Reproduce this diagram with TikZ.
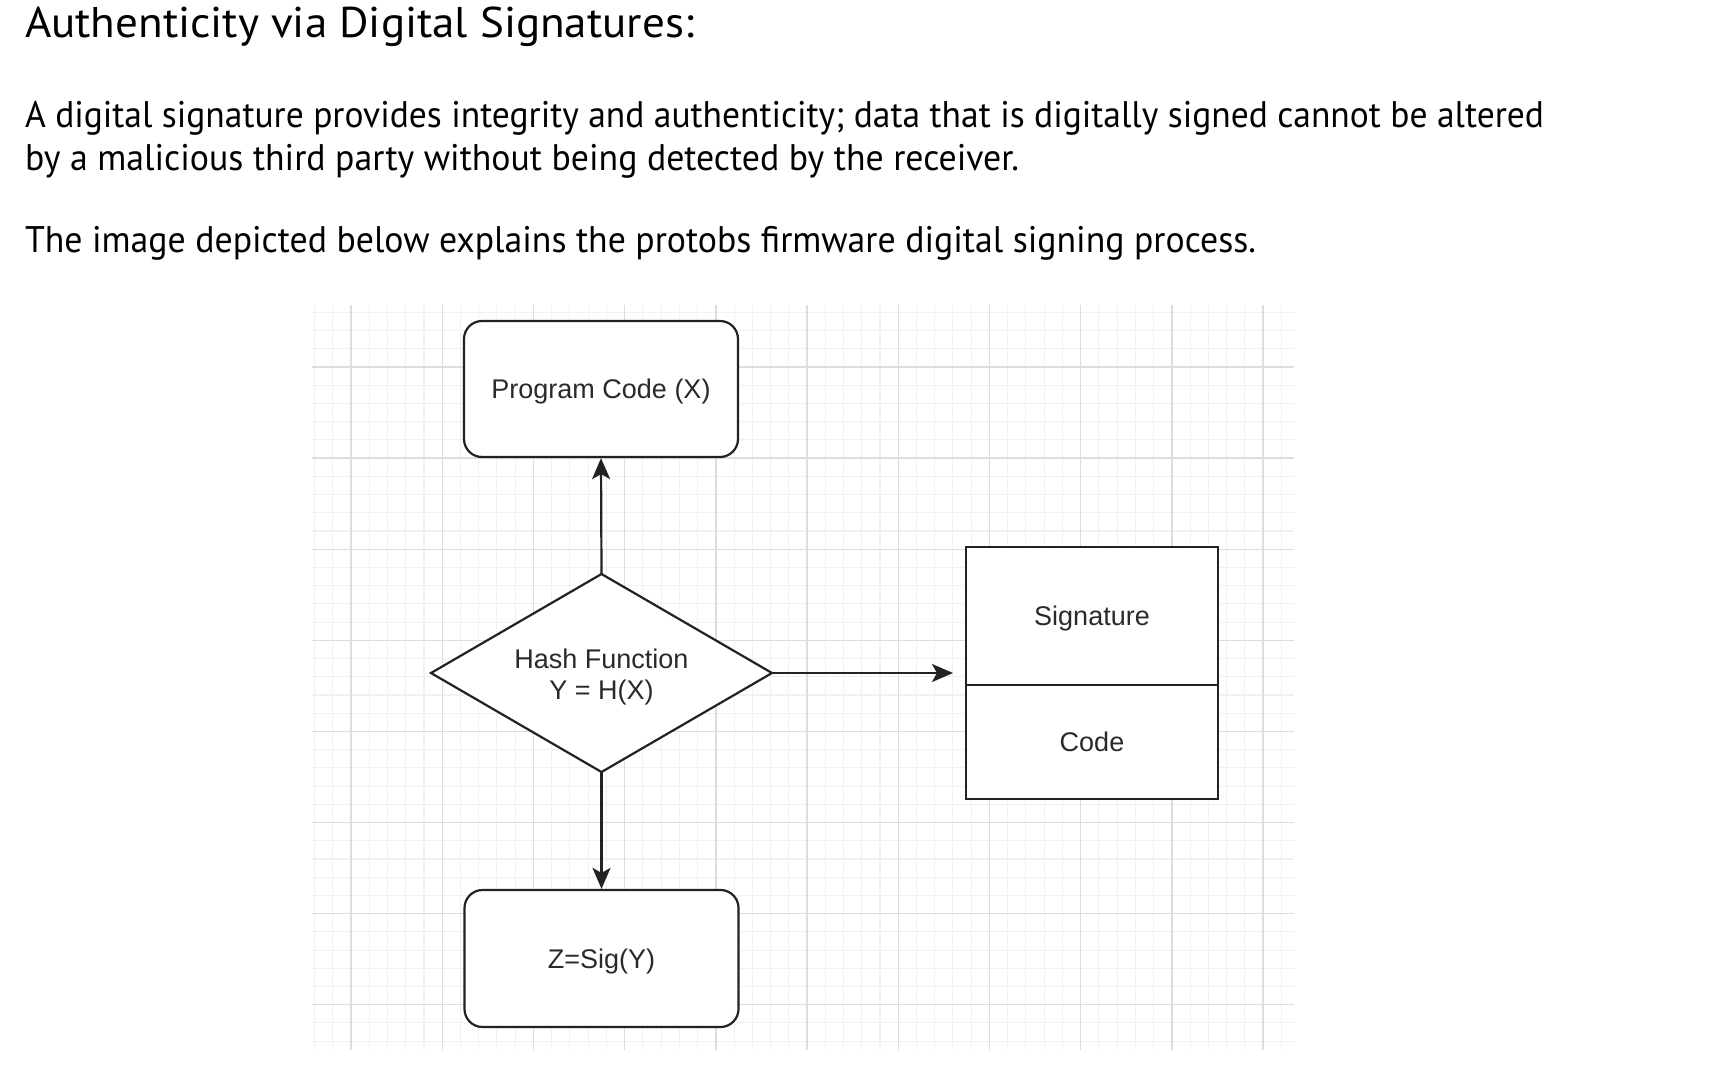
\documentclass[tikz,border=0pt]{standalone}
\usepackage{fontspec}
\setmainfont{Liberation Sans}
\newfontfamily\headfont{PT Sans}
\usepackage{graphicx}
\usetikzlibrary{arrows.meta}
\definecolor{gridmajor}{HTML}{DDDDDD}
\definecolor{gridminor}{HTML}{F1F1F1}
\definecolor{ink}{HTML}{222222}
\definecolor{txt}{HTML}{2A2A2A}
\newlength\fitlen
\newcommand\fitto[2]{\settowidth\fitlen{#2}\pgfmathsetmacro\fitsx{#1/\fitlen}\scalebox{\fitsx}[1]{#2}}
\begin{document}
\begin{tikzpicture}[x=1pt,y=-1pt,
  head/.style={anchor=base west, inner sep=0pt, outer sep=0pt, text=black},
  titlefont/.style={font=\headfont\fontsize{43}{50}\selectfont},
  parafont/.style={font=\headfont\fontsize{37}{43}\selectfont},
  majorgrid/.style={draw=gridmajor, line width=1.4pt},
  minorgrid/.style={draw=gridminor, line width=1.1pt},
  box/.style={draw=ink, fill=white, line width=2.2pt, rounded corners=18pt,
    minimum width=274pt, minimum height=136pt, inner sep=0pt,
    text height=19.3pt, text depth=0pt,
    font=\fontsize{27}{31}\selectfont, text=txt},
  shapeline/.style={draw=ink, fill=white, line width=2.2pt, line join=miter},
  labeltext/.style={inner sep=0pt, align=center,
    font=\fontsize{27}{31}\selectfont, text=txt},
  cell/.style={draw=ink, fill=white, line width=2.2pt,
    minimum width=252pt, inner sep=0pt,
    text height=19.3pt, text depth=0pt,
    font=\fontsize{27}{31}\selectfont, text=txt},
  arr/.style={draw=ink, line width=2.2pt, -{Stealth[length=21pt,width=18pt,inset=5pt]}}
]
\useasboundingbox[fill=white] (0,0) rectangle (1728,1084);

% grid
\begin{scope}
\clip (312,305) rectangle (1294,1050);
\foreach \k in {-3,...,52} \draw[minorgrid] ({351+\k*18.24},305) -- ({351+\k*18.24},1050);
\foreach \k in {-4,...,38} \draw[minorgrid] (312,{367+\k*18.22}) -- (1294,{367+\k*18.22});
\foreach \k in {0,...,10} \draw[majorgrid] ({351+\k*91.2},305) -- ({351+\k*91.2},1050);
\foreach \k in {0,...,7} \draw[majorgrid] (312,{367+\k*91.1}) -- (1294,{367+\k*91.1});
\end{scope}

% heading text
\node[head, titlefont] (title) at (25,37) {\fitto{669}{Authenticity via Digital Signatures:}};
\node[head, parafont] (line1) at (25,127) {\fitto{1519}{A digital signature provides integrity and authenticity; data that is digitally signed cannot be altered}};
\node[head, parafont] (line2) at (25,170) {\fitto{994}{by a malicious third party without being detected by the receiver.}};
\node[head, parafont] (line3) at (25,252) {\fitto{1231}{The image depicted below explains the protobs firmware digital signing process.}};

% diagram
\node[box] (prog) at (601,389) {Program Code (X)};
\coordinate (hashN) at (601.5,574);
\coordinate (hashE) at (772,673);
\coordinate (hashS) at (601.5,772);
\coordinate (hashW) at (431,673);
\draw[shapeline] (hashN) -- (hashE) -- (hashS) -- (hashW) -- cycle;
\node[labeltext] (hash) at (601.5,677.5) {Hash Function\\Y = H(X)};
\node[box, minimum height=137pt] (zsig) at (601.5,958.5) {Z=Sig(Y)};
\node[cell, minimum height=138pt] (sigtop) at (1092,616) {Signature};
\node[cell, minimum height=114pt] (sigbot) at (1092,742) {Code};
\coordinate (arrend) at (953,673);

\draw[arr] (hashN) -- (prog.south);
\draw[arr] (hashS) -- (zsig.north);
\draw[arr] (hashE) -- (arrend);
\end{tikzpicture}
\end{document}
